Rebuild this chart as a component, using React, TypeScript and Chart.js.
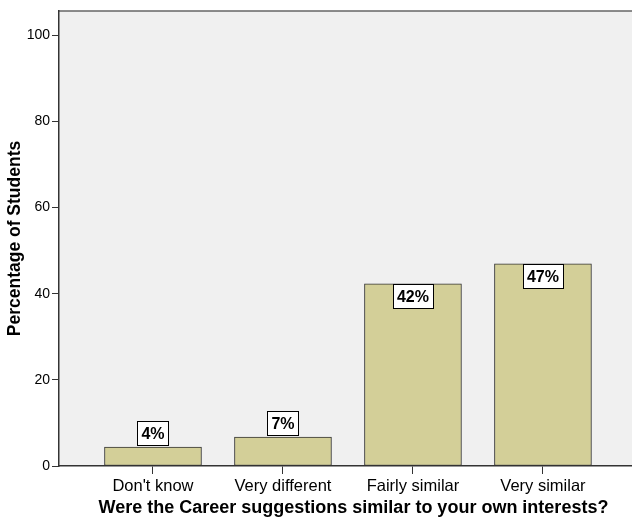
import React, { useEffect, useRef } from 'react';
import { Chart, registerables } from 'chart.js';

Chart.register(...registerables);

const categories = ["Don't know", 'Very different', 'Fairly similar', 'Very similar'];
const percentages = [4.4, 6.7, 42.3, 46.9];
const yTicks = [0, 20, 40, 60, 80, 100];
const xTitle = 'Were the Career suggestions similar to your own interests?';
const yTitle = 'Percentage of Students';

const FONT = '"Liberation Sans", Arial, Helvetica, sans-serif';

export default function App() {
  const ref = useRef<HTMLCanvasElement>(null);

  useEffect(() => {
    document.body.style.margin = '0';
    if (!ref.current) return;

    const bgPlugin = {
      id: 'plotBg',
      beforeDraw(chart: any) {
        const { ctx, chartArea: a } = chart;
        ctx.save();
        ctx.fillStyle = '#f0f0f0';
        ctx.fillRect(a.left, a.top, a.right - a.left, a.bottom - a.top);
        ctx.strokeStyle = '#666';
        ctx.lineWidth = 1.5;
        ctx.beginPath();
        ctx.moveTo(a.left, a.top);
        ctx.lineTo(a.right, a.top);
        ctx.stroke();
        ctx.restore();
      },
      afterDraw(chart: any) {
        const { ctx, chartArea: a } = chart;
        ctx.save();
        ctx.font = `bold 18px ${FONT}`;
        ctx.fillStyle = '#000';
        ctx.textAlign = 'center';
        ctx.textBaseline = 'middle';
        ctx.fillText(xTitle, (a.left + a.right) / 2 + 8, chart.height - 11.8);
        ctx.restore();
      },
    };

    const labelPlugin = {
      id: 'valueLabels',
      afterDatasetsDraw(chart: any) {
        const ctx = chart.ctx;
        const meta = chart.getDatasetMeta(0);
        ctx.save();
        ctx.font = `bold 16px ${FONT}`;
        meta.data.forEach((bar: any, i: number) => {
          const text = Math.round(percentages[i]) + '%';
          const { x, y, base } = bar.getProps(['x', 'y', 'base'], true);
          const tw = ctx.measureText(text).width;
          const w = Math.round(tw + 8);
          const h = 24;
          const inside = base - y > 40;
          const top = Math.round(inside ? y : y - 2 - h);
          const left = Math.round(x - w / 2);
          ctx.fillStyle = '#ffffff';
          ctx.fillRect(left + 0.5, top + 0.5, w, h);
          ctx.strokeStyle = '#000';
          ctx.lineWidth = 1;
          ctx.strokeRect(left + 0.5, top + 0.5, w, h);
          ctx.fillStyle = '#000';
          ctx.textAlign = 'center';
          ctx.textBaseline = 'middle';
          ctx.fillText(text, x, top + h / 2 + 1.5);
        });
        ctx.restore();
      },
    };

    const chart = new Chart(ref.current, {
      type: 'bar',
      data: {
        datasets: [
          {
            data: percentages.map((v, i) => ({ x: i, y: v })),
            backgroundColor: '#d3cf98',
            borderColor: '#333333',
            borderWidth: 1,
            borderSkipped: false,
            barThickness: 97,
          },
        ],
      },
      options: {
        responsive: true,
        maintainAspectRatio: false,
        animation: false,
        layout: { padding: { top: 11, right: 0, bottom: 0, left: 0 } },
        plugins: {
          legend: { display: false },
          tooltip: { enabled: false },
        },
        scales: {
          x: {
            type: 'linear',
            offset: false,
            min: -0.723,
            max: 3.685,
            afterBuildTicks(scale: any) {
              scale.ticks = categories.map((_, i) => ({ value: i }));
            },
            afterFit(scale: any) {
              scale.height = 54;
            },
            ticks: {
              callback: (v: any) => categories[v as number],
              font: { size: 16.5, family: FONT },
              color: '#000',
              padding: 3,
              maxRotation: 0,
              autoSkip: false,
            },
            grid: {
              display: true,
              offset: false,
              drawOnChartArea: false,
              drawTicks: true,
              tickLength: 8,
              tickColor: '#333',
              tickWidth: 1,
            },
            border: { display: true, color: '#333', width: 1.5 },
            title: { display: false },
          },
          y: {
            type: 'linear',
            min: 0,
            max: 105.6,
            afterBuildTicks(scale: any) {
              scale.ticks = yTicks.map((v) => ({ value: v }));
            },
            afterFit(scale: any) {
              scale.width = 59;
            },
            ticks: {
              font: { size: 14, family: FONT },
              color: '#000',
              padding: 2,
            },
            grid: {
              display: true,
              drawOnChartArea: false,
              drawTicks: true,
              tickLength: 7,
              tickColor: '#333',
              tickWidth: 1,
            },
            border: { display: true, color: '#333', width: 1.5 },
            title: {
              display: true,
              text: yTitle,
              font: { size: 17.5, weight: 'bold', family: FONT },
              color: '#000',
              padding: { top: 5, bottom: 0 },
            },
          },
        },
      },
      plugins: [bgPlugin, labelPlugin],
    } as any);

    return () => chart.destroy();
  }, []);

  return (
    <div style={{ width: 632, height: 520, position: 'relative' }}>
      <canvas ref={ref} />
    </div>
  );
}
